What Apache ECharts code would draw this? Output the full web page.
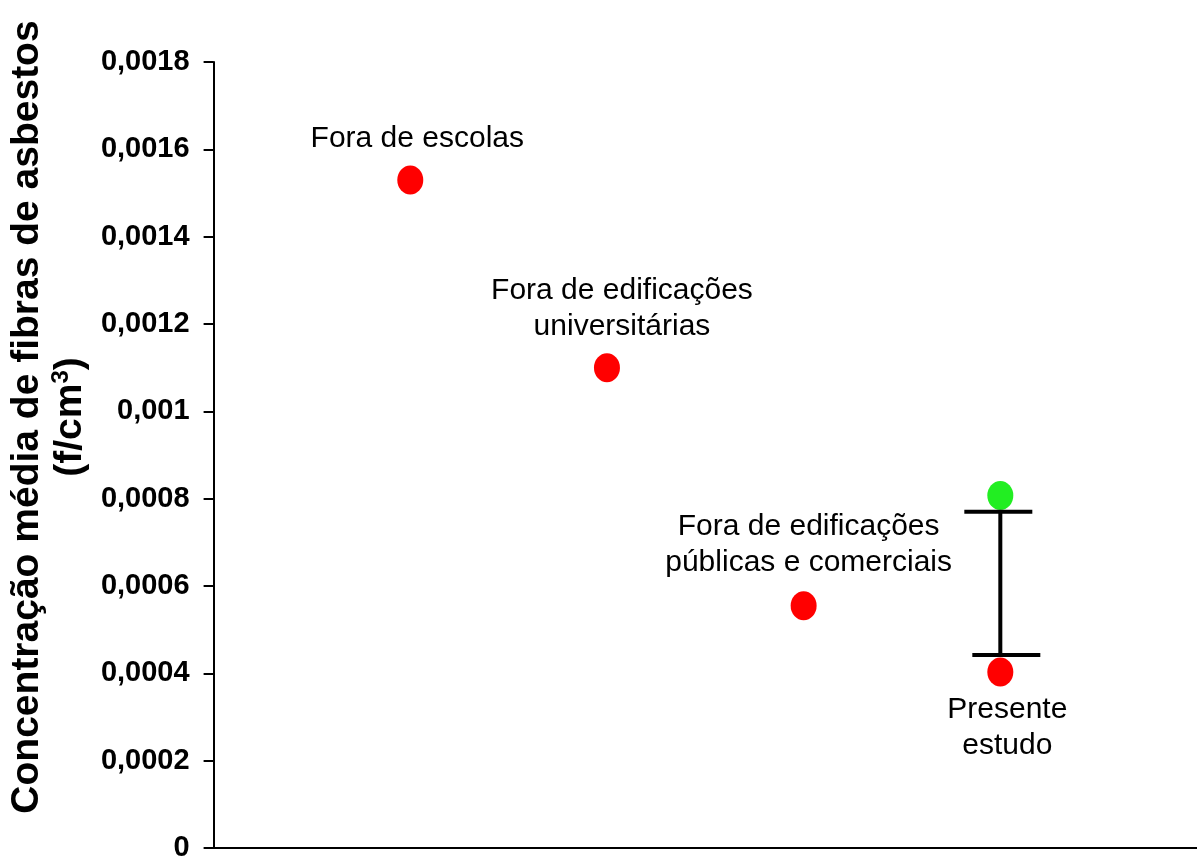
<!DOCTYPE html>
<html>
<head>
<meta charset="utf-8">
<script src="https://cdn.jsdelivr.net/npm/echarts@6/dist/echarts.min.js"></script>
<style>
html,body{margin:0;padding:0;background:#fff;}
#chart{width:1197px;height:863px;}
</style>
</head>
<body>
<div id="chart"></div>
<script>
// ---- data ----
const xPositions = [1, 2, 3, 4];
const pointLabels = ['Fora de escolas', 'Fora de edificações\nuniversitárias', 'Fora de edificações\npúblicas e comerciais', 'Presente\nestudo'];
const meanValues = [0.00153, 0.0011, 0.000555, 0.000403];
const presentHighX = [4];
const presentHighValue = [0.000807];
const errorLow = [0.000442];
const errorHigh = [0.00077];
const yTickLabels = ['0', '0,0002', '0,0004', '0,0006', '0,0008', '0,001', '0,0012', '0,0014', '0,0016', '0,0018'];

// label placement (style only)
const labelStyles = [
  {position: 'top', distance: 9, offset: [7, 0]},
  {position: 'top', distance: 8, offset: [15, 0]},
  {position: 'top', distance: 10, offset: [5, 0]},
  {position: 'bottom', distance: 5, offset: [7, 0]}
];

const chart = echarts.init(document.getElementById('chart'), null, {renderer: 'canvas'});
const font = 'Liberation Sans, Arial, sans-serif';

const redData = xPositions.map((x, i) => ({
  value: [x, meanValues[i]],
  label: Object.assign({
    show: true,
    formatter: pointLabels[i],
    fontFamily: font,
    fontSize: 30,
    lineHeight: 36,
    color: '#000',
    align: 'center'
  }, labelStyles[i])
}));

const option = {
  backgroundColor: '#ffffff',
  animation: false,
  grid: {left: 207, right: 0, top: 62, bottom: 15, containLabel: false},
  xAxis: {
    type: 'value', min: 0, max: 5,
    axisLine: {show: true, lineStyle: {color: '#000', width: 2}},
    axisTick: {show: false},
    axisLabel: {show: false},
    splitLine: {show: false}
  },
  yAxis: {
    type: 'value', min: 0, max: 0.0018, interval: 0.0002,
    axisLine: {show: true, lineStyle: {color: '#000', width: 2}},
    axisTick: {show: true, inside: false, length: 10, lineStyle: {color: '#000', width: 2}},
    splitLine: {show: false},
    axisLabel: {
      margin: 24,
      fontFamily: font, fontWeight: 'bold', fontSize: 29, color: '#000',
      formatter: function (v) { return yTickLabels[Math.round(v / 0.0002)]; }
    },
    name: '{a|Concentração média de fibras de asbestos}\n{a|(f/cm}{sup|3}{a|)}',
    nameLocation: 'middle',
    nameRotate: 90,
    nameGap: 103,
    nameTextStyle: {
      align: 'center',
      padding: [0, 0, 0, 76],
      rich: {
        a: {fontFamily: font, fontWeight: 'bold', fontSize: 39, lineHeight: 43, color: '#000'},
        sup: {fontFamily: font, fontWeight: 'bold', fontSize: 24, lineHeight: 43, color: '#000', verticalAlign: 'top', padding: [0, 0, 14, 0]}
      }
    }
  },
  series: [
    {
      type: 'custom',
      z: 3,
      data: presentHighX.map((x, i) => [x, errorLow[i], errorHigh[i]]),
      renderItem: function (params, api) {
        const lo = api.coord([api.value(0), api.value(1)]);
        const hi = api.coord([api.value(0), api.value(2)]);
        const hw = 34;
        const st = {stroke: '#000', lineWidth: 4};
        return {
          type: 'group',
          children: [
            {type: 'line', shape: {x1: lo[0], y1: lo[1], x2: hi[0], y2: hi[1]}, style: st},
            {type: 'line', shape: {x1: hi[0] - hw - 2, y1: hi[1], x2: hi[0] + hw - 2, y2: hi[1]}, style: st},
            {type: 'line', shape: {x1: lo[0] - hw + 6, y1: lo[1], x2: lo[0] + hw + 6, y2: lo[1]}, style: st}
          ]
        };
      }
    },
    {
      type: 'scatter',
      z: 2,
      symbol: 'circle',
      symbolSize: [26, 29],
      itemStyle: {color: '#ff0000', opacity: 1},
      data: redData
    },
    {
      type: 'scatter',
      z: 2,
      symbol: 'circle',
      symbolSize: [26, 29],
      itemStyle: {color: '#22ee22', opacity: 1},
      data: presentHighX.map((x, i) => [x, presentHighValue[i]])
    }
  ]
};
chart.setOption(option);
</script>
</body>
</html>
